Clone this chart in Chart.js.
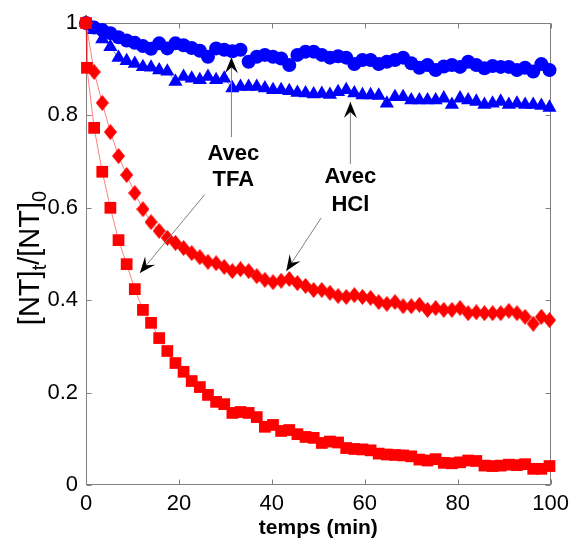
<!DOCTYPE html>
<html>
<head>
<meta charset="utf-8">
<script src="https://cdn.jsdelivr.net/npm/chart.js@4.4.0/dist/chart.umd.min.js"></script>
<style>
  body { margin: 0; background: #fff; }
  canvas { display: block; }
</style>
</head>
<body>
<canvas id="graph" width="575" height="545"></canvas>
<script>
//====================================
// DONNEES
//====================================

// temps de mesure (min)
const temps = [0, 1.75, 3.5, 5.25, 7, 8.75, 10.5, 12.25, 14, 15.75,
  17.5, 19.25, 21, 22.75, 24.5, 26.25, 28, 29.75, 31.5, 33.25,
  35, 36.75, 38.5, 40.25, 42, 43.75, 45.5, 47.25, 49, 50.75,
  52.5, 54.25, 56, 57.75, 59.5, 61.25, 63, 64.75, 66.5, 68.25,
  70, 71.75, 73.5, 75.25, 77, 78.75, 80.5, 82.25, 84, 85.75,
  87.5, 89.25, 91, 92.75, 94.5, 96.25, 98, 99.75];

// la serie rouge TFA a un point en plus au debut
const tempsTfaRouge = [0, 0.2, 1.75, 3.5, 5.25, 7, 8.75, 10.5, 12.25, 14, 15.75,
  17.5, 19.25, 21, 22.75, 24.5, 26.25, 28, 29.75, 31.5, 33.25,
  35, 36.75, 38.5, 40.25, 42, 43.75, 45.5, 47.25, 49, 50.75,
  52.5, 54.25, 56, 57.75, 59.5, 61.25, 63, 64.75, 66.5, 68.25,
  70, 71.75, 73.5, 75.25, 77, 78.75, 80.5, 82.25, 84, 85.75,
  87.5, 89.25, 91, 92.75, 94.5, 96.25, 98, 99.75];

// [NT]t/[NT]0 - cercles bleus (TFA)
const tfaBleu = [1.0, 0.99, 0.985, 0.978, 0.969, 0.962, 0.957, 0.950, 0.944, 0.956,
  0.945, 0.956, 0.952, 0.946, 0.940, 0.927, 0.945, 0.942, 0.939, 0.942,
  0.916, 0.927, 0.931, 0.927, 0.923, 0.909, 0.931, 0.938, 0.938, 0.931,
  0.925, 0.928, 0.925, 0.911, 0.920, 0.920, 0.911, 0.916, 0.920, 0.925,
  0.913, 0.903, 0.909, 0.898, 0.906, 0.909, 0.905, 0.916, 0.909, 0.902,
  0.907, 0.905, 0.905, 0.898, 0.903, 0.895, 0.911, 0.898];

// triangles bleus (HCl)
const hclBleu = [1.0, 0.985, 0.965, 0.948, 0.925, 0.918, 0.912, 0.905, 0.904, 0.898,
  0.895, 0.873, 0.884, 0.880, 0.877, 0.884, 0.877, 0.880, 0.859, 0.862,
  0.862, 0.862, 0.859, 0.855, 0.855, 0.853, 0.849, 0.848, 0.846, 0.847,
  0.845, 0.851, 0.855, 0.848, 0.844, 0.844, 0.843, 0.826, 0.840, 0.840,
  0.833, 0.833, 0.833, 0.833, 0.837, 0.823, 0.837, 0.833, 0.830, 0.823,
  0.826, 0.830, 0.823, 0.826, 0.823, 0.823, 0.821, 0.817];

// losanges rouges (HCl)
const hclRouge = [1.0, 0.894, 0.827, 0.764, 0.712, 0.671, 0.632, 0.597, 0.569, 0.550,
  0.535, 0.524, 0.513, 0.502, 0.493, 0.483, 0.480, 0.472, 0.463, 0.467,
  0.463, 0.452, 0.444, 0.439, 0.442, 0.446, 0.437, 0.431, 0.422, 0.422,
  0.416, 0.409, 0.407, 0.411, 0.407, 0.405, 0.396, 0.392, 0.396, 0.387,
  0.387, 0.390, 0.379, 0.383, 0.379, 0.379, 0.383, 0.372, 0.374, 0.372,
  0.372, 0.372, 0.377, 0.372, 0.364, 0.349, 0.364, 0.357];

// carres rouges (TFA)
const tfaRouge = [1.0, 0.903, 0.773, 0.678, 0.600, 0.530, 0.478, 0.424, 0.379, 0.351,
  0.318, 0.290, 0.264, 0.245, 0.225, 0.212, 0.195, 0.180, 0.175, 0.156,
  0.158, 0.156, 0.147, 0.126, 0.130, 0.117, 0.119, 0.110, 0.104, 0.102,
  0.091, 0.094, 0.092, 0.080, 0.078, 0.077, 0.075, 0.068, 0.066, 0.065,
  0.064, 0.062, 0.055, 0.053, 0.056, 0.048, 0.047, 0.049, 0.053, 0.052,
  0.042, 0.041, 0.042, 0.044, 0.043, 0.045, 0.035, 0.035, 0.041];

// graduations
const xTicks = [0, 20, 40, 60, 80, 100];
const yTicks = [0, 0.2, 0.4, 0.6, 0.8, 1];

// annotations (coordonnees en unites des axes)
const textes = [
  { lignes: ["Avec", "TFA"], x: 31.7, y: [0.716, 0.660] },
  { lignes: ["Avec", "HCl"], x: 56.9, y: [0.666, 0.606] },
];
const fleches = [
  { de: [31.3, 0.753], a: [31.3, 0.926] },
  { de: [25.5, 0.628], a: [11.6, 0.459] },
  { de: [56.9, 0.695], a: [56.9, 0.829] },
  { de: [50.6, 0.578], a: [43.1, 0.463] },
];

const POLICE = "'Liberation Sans', Arial, sans-serif";

function points(xs, ys) {
  return ys.map((v, i) => ({ x: xs[i], y: v }));
}

// losange un peu plus haut que large (style MATLAB)
function losange(w, h, couleur) {
  const c = document.createElement("canvas");
  c.width = w;
  c.height = h;
  const g = c.getContext("2d");
  g.fillStyle = couleur;
  g.beginPath();
  g.moveTo(w / 2, 0);
  g.lineTo(w, h / 2);
  g.lineTo(w / 2, h);
  g.lineTo(0, h / 2);
  g.closePath();
  g.fill();
  return c;
}

//====================================
// PLUGIN: cadre, graduations internes, label Y
//====================================
const cadrePlugin = {
  id: "cadre",
  beforeDatasetsDraw(chart) {
    const { ctx, chartArea: a, scales: { x, y } } = chart;
    ctx.save();
    ctx.strokeStyle = "#808080";
    ctx.lineWidth = 1;
    const l = Math.round(a.left) + 0.5, r = Math.round(a.right) - 0.5;
    const t = Math.round(a.top) + 0.5, b = Math.round(a.bottom) - 0.5;
    ctx.strokeRect(l, t, r - l, b - t);
    const tk = 5;
    ctx.beginPath();
    xTicks.forEach((v) => {
      const px = Math.round(x.getPixelForValue(v)) + 0.5;
      ctx.moveTo(px, b); ctx.lineTo(px, b - tk);
      ctx.moveTo(px, t); ctx.lineTo(px, t + tk);
    });
    yTicks.forEach((v) => {
      const py = Math.round(y.getPixelForValue(v)) + 0.5;
      ctx.moveTo(l, py); ctx.lineTo(l + tk, py);
      ctx.moveTo(r, py); ctx.lineTo(r - tk, py);
    });
    ctx.stroke();

    // label Y avec indices
    const morceaux = [
      { s: "[NT]", sub: false },
      { s: "t", sub: true },
      { s: "/[NT]", sub: false },
      { s: "0", sub: true },
    ];
    const fNorm = "29px " + POLICE, fSub = "20px " + POLICE;
    let total = 0;
    morceaux.forEach((m) => {
      ctx.font = m.sub ? fSub : fNorm;
      m.w = ctx.measureText(m.s).width;
      total += m.w;
    });
    ctx.translate(31, (a.top + a.bottom) / 2 + 4);
    ctx.rotate(-Math.PI / 2);
    ctx.fillStyle = "#000";
    ctx.textBaseline = "middle";
    let cx = -total / 2;
    morceaux.forEach((m) => {
      ctx.font = m.sub ? fSub : fNorm;
      ctx.fillText(m.s, cx, m.sub ? 9 : 0);
      cx += m.w;
    });
    ctx.restore();
  },
  afterDatasetsDraw(chart) {
    const { ctx, scales: { x, y } } = chart;
    ctx.save();
    // fleches
    fleches.forEach((f) => {
      const x0 = x.getPixelForValue(f.de[0]), y0 = y.getPixelForValue(f.de[1]);
      const x1 = x.getPixelForValue(f.a[0]), y1 = y.getPixelForValue(f.a[1]);
      ctx.strokeStyle = "#808080";
      ctx.lineWidth = 1;
      ctx.beginPath(); ctx.moveTo(x0, y0); ctx.lineTo(x1, y1); ctx.stroke();
      const ang = Math.atan2(y1 - y0, x1 - x0);
      ctx.save();
      ctx.translate(x1, y1);
      ctx.rotate(ang);
      ctx.fillStyle = "#000";
      ctx.beginPath();
      ctx.moveTo(0, 0);
      ctx.lineTo(-16, -6.5);
      ctx.lineTo(-10, 0);
      ctx.lineTo(-16, 6.5);
      ctx.closePath();
      ctx.fill();
      ctx.restore();
    });
    // textes
    ctx.fillStyle = "#000";
    ctx.font = "bold 22px " + POLICE;
    ctx.textAlign = "center";
    ctx.textBaseline = "middle";
    textes.forEach((t) => {
      t.lignes.forEach((s, i) => {
        ctx.fillText(s, x.getPixelForValue(t.x), y.getPixelForValue(t.y[i]));
      });
    });
    ctx.restore();
  },
};

//====================================
// GRAPHIQUE
//====================================
const ctx = document.getElementById("graph").getContext("2d");

new Chart(ctx, {
  type: "scatter",
  data: {
    datasets: [
      {
        label: "HCl rouge",
        data: points(temps, hclRouge),
        pointStyle: losange(13, 16, "#ff0000"),
        pointRadius: 8,
        backgroundColor: "#ff0000",
        borderColor: "rgba(255,0,0,0.5)",
      },
      {
        label: "TFA rouge",
        data: points(tempsTfaRouge, tfaRouge),
        pointStyle: "rect",
        pointRadius: 8.3,
        backgroundColor: "#ff0000",
        borderColor: "rgba(255,0,0,0.5)",
      },
      {
        label: "TFA bleu",
        data: points(temps, tfaBleu),
        pointStyle: "circle",
        pointRadius: 7,
        backgroundColor: "#0000ff",
        borderColor: "rgba(0,0,255,0.5)",
      },
      {
        label: "HCl bleu",
        data: points(temps, hclBleu),
        pointStyle: "triangle",
        pointRadius: 8.2,
        backgroundColor: "#0000ff",
        borderColor: "rgba(0,0,255,0.5)",
      },
    ].map((d) => Object.assign(d, {
      clip: false,
      showLine: true,
      borderWidth: 1,
      pointBorderWidth: 0,
      pointBorderColor: d.backgroundColor,
      pointHoverRadius: d.pointRadius,
    })),
  },
  options: {
    responsive: false,
    animation: false,
    events: [],
    layout: { padding: { left: 0, right: 23, top: 23, bottom: 0 } },
    plugins: { legend: { display: false }, tooltip: { enabled: false } },
    scales: {
      x: {
        type: "linear",
        min: 0,
        max: 100,
        afterBuildTicks: (s) => { s.ticks = xTicks.map((v) => ({ value: v })); },
        afterFit: (s) => { s.height = 60; },
        grid: { display: false, drawTicks: false },
        border: { display: false },
        ticks: {
          color: "#000",
          font: { family: POLICE, size: 22 },
          padding: 6,
          maxRotation: 0,
          callback: (v) => String(v),
        },
        title: {
          display: true,
          text: "temps (min)",
          color: "#000",
          font: { family: POLICE, size: 21, weight: "bold", lineHeight: 1.2 },
          padding: { top: 0, bottom: 4 },
        },
      },
      y: {
        type: "linear",
        min: 0,
        max: 1,
        afterBuildTicks: (s) => { s.ticks = yTicks.map((v) => ({ value: v })); },
        afterFit: (s) => { s.width = 86; },
        grid: { display: false, drawTicks: false },
        border: { display: false },
        ticks: {
          color: "#000",
          font: { family: POLICE, size: 22 },
          padding: 8,
          callback: (v) => String(v),
        },
      },
    },
  },
  plugins: [cadrePlugin],
});
</script>
</body>
</html>
